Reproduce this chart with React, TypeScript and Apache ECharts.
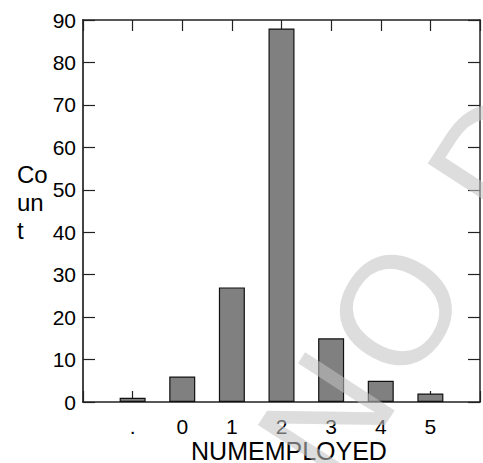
import React, { useEffect, useRef } from "react";
import * as echarts from "echarts";

const categories = [".", "0", "1", "2", "3", "4", "5"];
const counts = [1, 6, 27, 88, 15, 5, 2];
const yTicks = [0, 10, 20, 30, 40, 50, 60, 70, 80, 90];
const xTitle = "NUMEMPLOYED";
const yTitle = "Co\nun\nt";
const watermarkLetters = ["N", "O", " ", "D", "A", "T", "A"];
const letterAdvance = [0.722, 0.778, 0.278, 0.722, 0.667, 0.611, 0.667];

const FONT = 'Arial, "Liberation Sans", Helvetica, sans-serif';

export default function App() {
  const ref = useRef<HTMLDivElement>(null);
  useEffect(() => {
    if (!ref.current) return;
    const chart = echarts.init(ref.current, null, { renderer: "svg" });
    const data = counts.map((v, i) => [i, v]);
    const axisLineStyle = { color: "#222", width: 1.5 };
    const xFmt = (v: number) => (v >= 0 && v < categories.length ? categories[v] : "");
    const em = 155;
    const track = 12;
    const ang = (57 * Math.PI) / 180;
    const ux = Math.cos(ang);
    const uy = -Math.sin(ang);
    const oc = [396, 310];
    const off = 1.111 * em + track;
    const bx = oc[0] - off * ux;
    const by = oc[1] - off * uy;
    const wm: any[] = [];
    let acc = 0;
    watermarkLetters.forEach((ch, i) => {
      if (ch !== " ") {
        wm.push({
          type: "text",
          x: bx + acc * ux,
          y: by + acc * uy,
          originX: 0,
          originY: 0,
          rotation: ang,
          z: 100,
          silent: true,
          style: {
            x: 0,
            y: 0,
            text: ch,
            font: `${em}px ${FONT}`,
            fill: "rgba(195,195,195,0.56)",
            textAlign: "left",
            textVerticalAlign: "middle",
          },
        });
      }
      acc += letterAdvance[i] * em + track;
    });
    chart.setOption({
      animation: false,
      grid: { left: 83, top: 20, width: 402, height: 382 },
      xAxis: [
        {
          type: "value",
          min: -1,
          max: categories.length,
          interval: 1,
          position: "bottom",
          splitLine: { show: false },
          axisLine: { show: true, onZero: false, lineStyle: axisLineStyle },
          axisTick: { show: true, inside: true, length: 11, lineStyle: { color: "#222", width: 1.2 } },
          axisLabel: {
            formatter: xFmt,
            fontSize: 21,
            fontFamily: FONT,
            color: "#000",
            margin: 14,
          },
        },
        {
          type: "value",
          min: -1,
          max: categories.length,
          interval: 1,
          position: "top",
          splitLine: { show: false },
          axisLine: { show: true, onZero: false, lineStyle: axisLineStyle },
          axisTick: { show: true, inside: true, length: 11, lineStyle: { color: "#222", width: 1.2 } },
          axisLabel: { show: false },
        },
      ],
      yAxis: [
        {
          type: "value",
          min: yTicks[0],
          max: yTicks[yTicks.length - 1],
          interval: 10,
          position: "left",
          splitLine: { show: false },
          axisLine: { show: true, onZero: false, lineStyle: { color: "#444", width: 2 } },
          axisTick: { show: true, inside: true, length: 12, lineStyle: { color: "#222", width: 1.2 } },
          axisLabel: {
            fontSize: 21,
            fontFamily: FONT,
            color: "#000",
            margin: 7,
            padding: [7, 0, 0, 0],
          },
        },
        {
          type: "value",
          min: yTicks[0],
          max: yTicks[yTicks.length - 1],
          interval: 10,
          position: "right",
          splitLine: { show: false },
          axisLine: { show: true, onZero: false, lineStyle: axisLineStyle },
          axisTick: { show: true, inside: true, length: 12, lineStyle: { color: "#222", width: 1.2 } },
          axisLabel: { show: false },
        },
      ],
      series: [
        {
          type: "bar",
          data,
          xAxisIndex: 0,
          yAxisIndex: 0,
          barWidth: 26,
          itemStyle: { color: "#808080", borderColor: "#111", borderWidth: 1.2 },
        },
      ],
      graphic: [
        {
          type: "text",
          left: 17,
          top: 160,
          style: { text: yTitle, font: `24px ${FONT}`, fill: "#000", lineHeight: 28 },
        },
        {
          type: "text",
          x: 289,
          y: 451,
          style: {
            text: xTitle,
            font: `25px ${FONT}`,
            fill: "#000",
            textAlign: "center",
            textVerticalAlign: "middle",
            lineHeight: 22,
          },
        },
        ...wm,
      ],
    });
    return () => chart.dispose();
  }, []);
  return <div ref={ref} style={{ width: 483, height: 463, position: "absolute", left: 0, top: 0 }} />;
}
